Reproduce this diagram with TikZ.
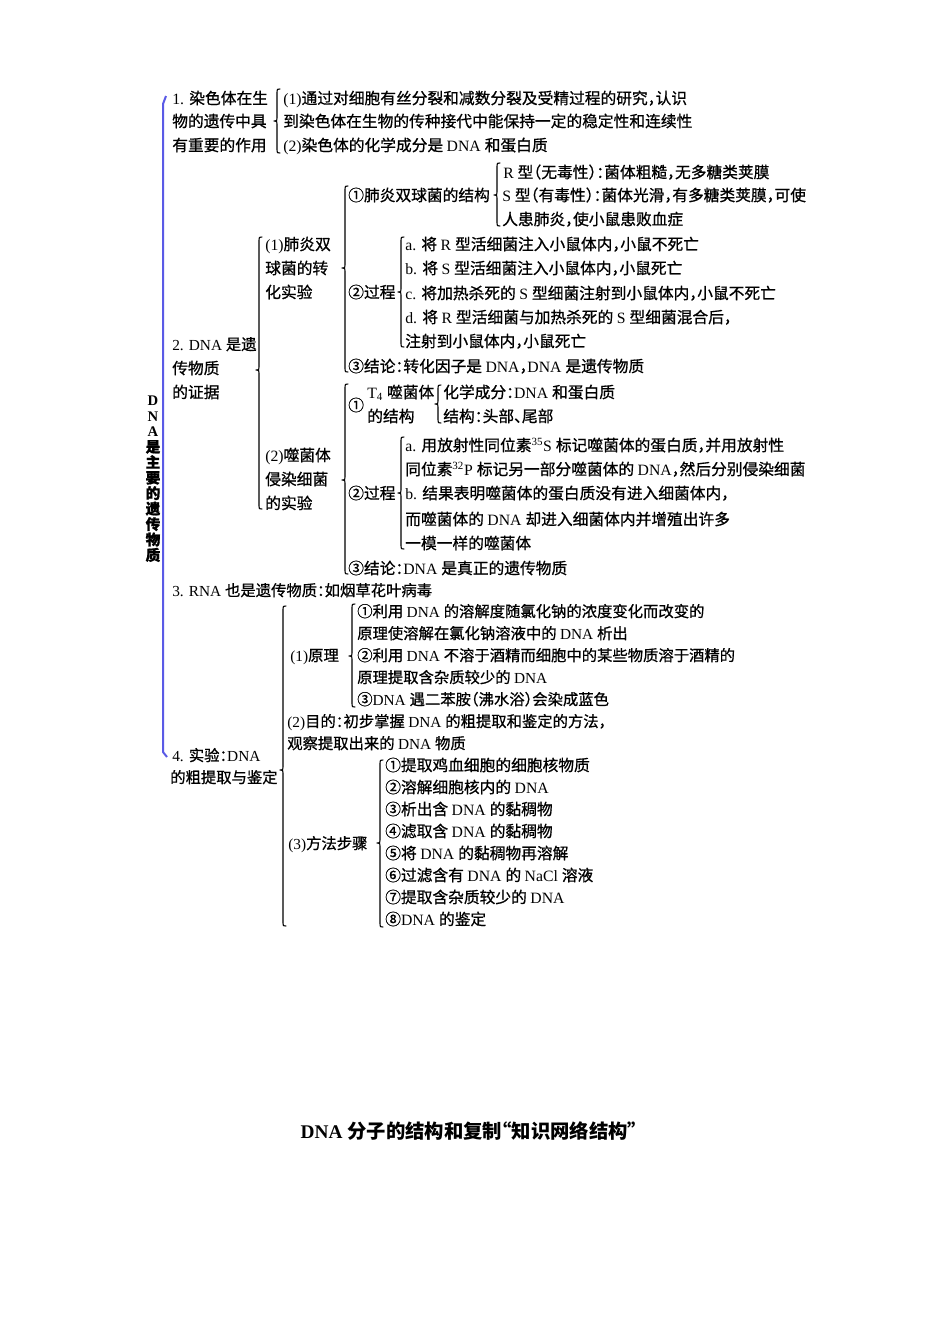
\documentclass[tikz,border=0pt]{standalone}
\usepackage{fontspec}
\setmainfont{Liberation Serif}
\newfontfamily\cjkf[CharacterWidth=AlternateHalf,FakeBold=0.8]{Noto Sans CJK SC}
\newfontfamily\cjkt[CharacterWidth=AlternateHalf]{Noto Sans CJK SC}
\XeTeXinterchartokenstate=1
\newXeTeXintercharclass\CJKcls
\makeatletter
\def\setcls#1#2{\count@=#1\relax\loop\XeTeXcharclass\count@=\CJKcls\relax\ifnum\count@<#2\relax\advance\count@ by 1\repeat}
\makeatother
\setcls{"2460}{"24FF}
\setcls{"3000}{"303F}
\setcls{"4E00}{"9FFF}
\setcls{"FF00}{"FFEF}
\setcls{"201C}{"201D}
\XeTeXinterchartoks 0 \CJKcls = {\cjkf}
\XeTeXinterchartoks 4095 \CJKcls = {\cjkf}
\XeTeXinterchartoks \CJKcls 0 = {\rmfamily}
\XeTeXinterchartoks 4095 0 = {\rmfamily}
\definecolor{linecol}{RGB}{90,90,230}
\newcommand\mybrace[4]{%
\draw[brc] (#1+3,#2) .. controls (#1,#2) .. (#1,#2+3) -- (#1,#3-3) .. controls (#1,#3) .. (#1-3,#3) .. controls (#1,#3) .. (#1,#3+3) -- (#1,#4-3) .. controls (#1,#4) .. (#1+3,#4);}
\begin{document}
\begin{tikzpicture}[x=0.75pt,y=-0.75pt,
 tx/.style={anchor=base west,inner sep=0pt,font=\fontsize{11.8pt}{14pt}\selectfont},
 txs/.style={anchor=base west,inner sep=0pt,font=\fontsize{11.5pt}{14pt}\selectfont},
 brc/.style={line width=0.8pt,line cap=round,line join=round},
 bline/.style={line width=1.5pt,draw=linecol,line join=round}]
\fill[white] (0,0) rectangle (950,1342);
\useasboundingbox (0,0) rectangle (950,1342);
% blue bracket
\draw[bline] (166,96) -- (163,104) -- (163,752) -- (167,757);
\node[inner sep=0pt,anchor=north,align=center,font=\fontsize{11pt}{11.6pt}\selectfont\bfseries] (vt) at (153,396) {D\\N\\A\\是\\主\\要\\的\\遗\\传\\物\\质};
% section 1
\node[tx] (n1a) at (172,104) {1. 染色体在生};
\node[tx] (n1b) at (172,127) {物的遗传中具};
\node[tx] (n1c) at (172,151) {有重要的作用};
\mybrace{277}{89}{121}{153}
\node[tx] (n1d) at (283,104) {(1)通过对细胞有丝分裂和减数分裂及受精过程的研究，认识};
\node[tx] (n1e) at (283,127) {到染色体在生物的传种接代中能保持一定的稳定性和连续性};
\node[tx] (n1f) at (283,151) {(2)染色体的化学成分是 DNA 和蛋白质};
% section 2
\node[txs] (n2a) at (172,350) {2. DNA 是遗};
\node[tx] (n2b) at (172,374) {传物质};
\node[tx] (n2c) at (172,398) {的证据};
\mybrace{259}{237}{370}{509}
\node[tx] (p1a) at (265,250) {(1)肺炎双};
\node[tx] (p1b) at (265,274) {球菌的转};
\node[tx] (p1c) at (265,298) {化实验};
\mybrace{345}{186}{268}{372}
\node[tx] (s1) at (348,201) {①肺炎双球菌的结构};
\mybrace{497}{163}{195}{226}
\node[tx] (r1) at (503,178) {R 型（无毒性）：菌体粗糙，无多糖类荚膜};
\node[tx] (r2) at (502,201) {S 型（有毒性）：菌体光滑，有多糖类荚膜，可使};
\node[tx] (r3) at (502,225) {人患肺炎，使小鼠患败血症};
\node[tx] (s2) at (348,298) {②过程};
\mybrace{401}{237}{292}{347}
\node[tx] (c1) at (405,250) {a. 将 R 型活细菌注入小鼠体内，小鼠不死亡};
\node[tx] (c2) at (405,274) {b. 将 S 型活细菌注入小鼠体内，小鼠死亡};
\node[tx] (c3) at (405,299) {c. 将加热杀死的 S 型细菌注射到小鼠体内，小鼠不死亡};
\node[tx] (c4) at (405,323) {d. 将 R 型活细菌与加热杀死的 S 型细菌混合后，};
\node[tx] (c5) at (405,347) {注射到小鼠体内，小鼠死亡};
\node[tx] (s3) at (348,372) {③结论：转化因子是 DNA，DNA 是遗传物质};
\node[tx] (p2a) at (265,461) {(2)噬菌体};
\node[tx] (p2b) at (265,485) {侵染细菌};
\node[tx] (p2c) at (265,509) {的实验};
\mybrace{345}{384}{480}{574}
\node[tx] (t0) at (348,411) {①};
\node[tx] (t1) at (367,398) {T\textsubscript{4} 噬菌体};
\node[tx] (t2) at (367,422) {的结构};
\mybrace{438}{385}{404}{423}
\node[tx] (t3) at (443,398) {化学成分：DNA 和蛋白质};
\node[tx] (t4) at (443,422) {结构：头部、尾部};
\node[tx] (u0) at (348,499) {②过程};
\mybrace{401}{437}{493}{549}
\node[tx] (u1) at (405,451) {a. 用放射性同位素\textsuperscript{35}S 标记噬菌体的蛋白质，并用放射性};
\node[tx] (u2) at (405,475) {同位素\textsuperscript{32}P 标记另一部分噬菌体的 DNA，然后分别侵染细菌};
\node[tx] (u3) at (405,499) {b. 结果表明噬菌体的蛋白质没有进入细菌体内，};
\node[tx] (u4) at (405,525) {而噬菌体的 DNA 却进入细菌体内并增殖出许多};
\node[tx] (u5) at (405,549) {一模一样的噬菌体};
\node[tx] (u6) at (348,574) {③结论：DNA 是真正的遗传物质};
% section 3
\node[txs] (n3) at (172,596) {3. RNA 也是遗传物质：如烟草花叶病毒};
% section 4
\node[txs] (n4a) at (172,761) {4. 实验：DNA};
\node[txs] (n4b) at (170,783) {的粗提取与鉴定};
\mybrace{283}{606}{770}{926}
\node[txs] (q1) at (290,661) {(1)原理};
\mybrace{352}{604}{656}{707}
\node[txs] (q1a) at (357,617) {①利用 DNA 的溶解度随氯化钠的浓度变化而改变的};
\node[txs] (q1b) at (357,639) {原理使溶解在氯化钠溶液中的 DNA 析出};
\node[txs] (q1c) at (357,661) {②利用 DNA 不溶于酒精而细胞中的某些物质溶于酒精的};
\node[txs] (q1d) at (357,683) {原理提取含杂质较少的 DNA};
\node[txs] (q1e) at (357,705) {③DNA 遇二苯胺（沸水浴）会染成蓝色};
\node[txs] (q2a) at (287,727) {(2)目的：初步掌握 DNA 的粗提取和鉴定的方法，};
\node[txs] (q2b) at (287,749) {观察提取出来的 DNA 物质};
\node[txs] (q3) at (288,849) {(3)方法步骤};
\mybrace{380}{760}{843}{927}
\node[tx] (m1) at (385,771) {①提取鸡血细胞的细胞核物质};
\node[tx] (m2) at (385,793) {②溶解细胞核内的 DNA};
\node[tx] (m3) at (385,815) {③析出含 DNA 的黏稠物};
\node[tx] (m4) at (385,837) {④滤取含 DNA 的黏稠物};
\node[tx] (m5) at (385,859) {⑤将 DNA 的黏稠物再溶解};
\node[tx] (m6) at (385,881) {⑥过滤含有 DNA 的 NaCl 溶液};
\node[tx] (m7) at (385,903) {⑦提取含杂质较少的 DNA};
\node[tx] (m8) at (385,925) {⑧DNA 的鉴定};
% title
\node[inner sep=0pt,font=\fontsize{14.5pt}{17pt}\selectfont\bfseries] (title) at (469,1131) {\let\cjkf\cjkt DNA 分子的结构和复制“知识网络结构”};
\end{tikzpicture}
\end{document}
